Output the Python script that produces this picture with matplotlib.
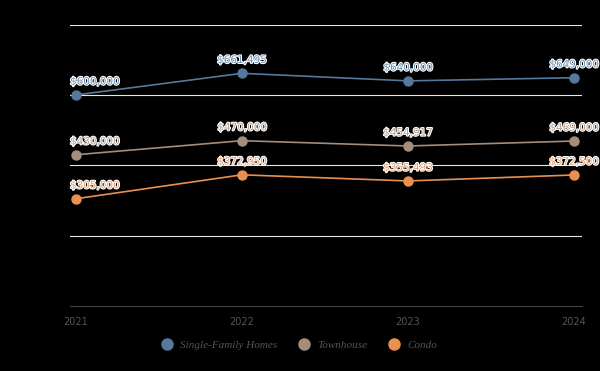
import matplotlib.pyplot as plt
import matplotlib.patheffects as pe

years = [2021, 2022, 2023, 2024]
single_family = [600000, 661495, 640000, 649000]
townhouse = [430000, 470000, 454917, 469000]
condo = [305000, 372950, 355493, 372500]

series = [
    ('Single-Family Homes', single_family, '#55799c', '#6f93b8'),
    ('Townhouse', townhouse, '#a58d7b', '#b9a291'),
    ('Condo', condo, '#ea9050', '#f0a068'),
]

fig = plt.figure(figsize=(6, 3.71), dpi=100, facecolor='black')
ax = fig.add_axes([0.1167, 0.1752, 0.8533, 0.7585])
ax.set_facecolor('black')

ax.set_ylim(0, 800000)
ax.set_xlim(2020.964, 2024.048)
for v in [200000, 400000, 600000, 800000]:
    ax.axhline(v, color='#e6e6e6', lw=0.8, zorder=0)
ax.axhline(0, color='#444444', lw=0.8, zorder=0, clip_on=False)

for name, vals, col, lcol in series:
    ax.plot(years, vals, color=col, lw=1.2, marker='o', ms=6.5, label=name, zorder=3)
    for i, (x, y) in enumerate(zip(years, vals)):
        txt = '${:,}'.format(y)
        ha = 'left' if i == 0 else 'center'
        dx = -0.036 if i == 0 else 0
        ax.annotate(txt, (x + dx, y), xytext=(0, 6), textcoords='offset points',
                    ha=ha, va='bottom', fontsize=7.5, color=lcol,
                    family='DejaVu Sans Condensed',
                    path_effects=[pe.withStroke(linewidth=1.5, foreground='white')],
                    zorder=4)

for s in ax.spines.values():
    s.set_visible(False)
ax.set_yticks([])
ax.set_xticks(years)
ax.set_xticklabels([str(y) for y in years], fontsize=7, color='#555555',
                   family='DejaVu Sans Condensed')
ax.tick_params(axis='x', length=0, pad=8)

leg = fig.legend(*ax.get_legend_handles_labels(), loc='center', ncol=3,
                 bbox_to_anchor=(0.5, 0.07), frameon=False,
                 handlelength=0.8, handletextpad=0.8, columnspacing=2,
                 prop={'family': 'Liberation Serif', 'style': 'italic', 'size': 8})
for h in leg.legend_handles:
    h.set_linestyle('')
    h.set_markersize(8)
for t in leg.get_texts():
    t.set_color('#555555')

fig.savefig('out.png', dpi=100, facecolor='black')
